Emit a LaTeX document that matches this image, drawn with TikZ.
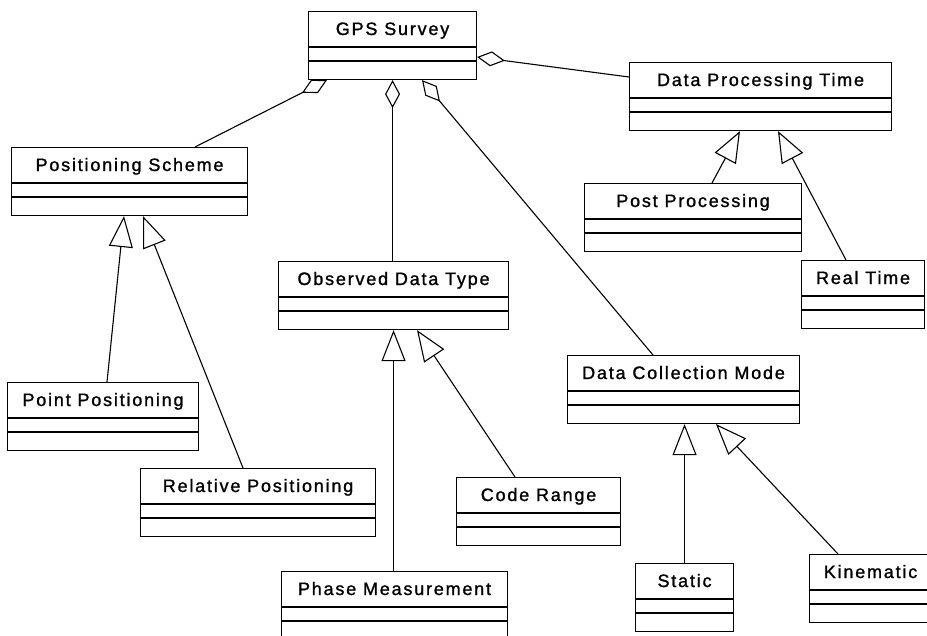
\documentclass[tikz,border=0pt]{standalone}
\usepackage{fontspec}
\setmainfont{Liberation Sans}[LetterSpace=10,FakeBold=1.2]
\usetikzlibrary{arrows.meta,calc}
\tikzset{
  cls/.style={draw, fill=white, line width=1.1pt, inner sep=0pt, minimum height=68pt, anchor=north west},
  ttl/.style={inner sep=0pt, anchor=base, font=\fontsize{18}{20}\selectfont},
  sep/.style={line width=1.1pt},
  conn/.style={line width=1.1pt},
  agg/.style={conn, {Diamond[open,length=28pt,width=15pt,line width=1.1pt]}-},
  gen/.style={conn, -{Triangle[open,length=31pt,width=24pt,line width=1.1pt]}}
}
\newcommand{\umlclass}[5]{%
  \node[cls, minimum width=#4pt] (#1) at (#2,#3) {};
  \node[ttl] (#1-t) at ([yshift=-24pt]#1.north) {#5};
  \draw[sep] ([yshift=-36pt]#1.north west) -- ([yshift=-36pt]#1.north east);
  \draw[sep] ([yshift=-50pt]#1.north west) -- ([yshift=-50pt]#1.north east);
}
\begin{document}
\begin{tikzpicture}[x=1pt,y=-1pt]
\clip (0,0) rectangle (927,635);
\fill[white] (0,0) rectangle (927,635);
\umlclass{gps}{308}{11}{168}{GPS Survey}
\umlclass{dpt}{629}{62}{262}{Data Processing Time}
\umlclass{post}{584}{183}{217}{Post Processing}
\umlclass{real}{801}{260}{123}{Real Time}
\umlclass{ps}{11}{147}{236}{Positioning Scheme}
\umlclass{point}{7}{382}{191}{Point Positioning}
\umlclass{rel}{140}{468}{235}{Relative Positioning}
\umlclass{odt}{278}{261}{230}{Observed Data Type}
\umlclass{code}{456}{477}{164}{Code Range}
\umlclass{phase}{281}{571}{226}{Phase Measurement}
\umlclass{dcm}{567}{355}{232}{Data Collection Mode}
\umlclass{static}{635}{563}{98}{Static}
\umlclass{kin}{809}{554}{122}{Kinematic}
% aggregations
\draw[agg] ([xshift=19pt]gps.south west) -- ([xshift=184pt]ps.north west);
\draw[agg] (gps.south) -- (gps.south |- odt.north);
\draw[agg] ([xshift=114pt]gps.south west) -- ([xshift=86pt]dcm.north west);
\draw[agg] ([yshift=-46pt]gps.north east) -- ([yshift=-15pt]dpt.north west);
% generalizations
\draw[gen] ([xshift=128pt]post.north west) -- ([xshift=111pt]dpt.south west);
\draw[gen] ([xshift=45pt]real.north west) -- ([xshift=149pt]dpt.south west);
\draw[gen] ([xshift=100pt]point.north west) -- ([xshift=113pt]ps.south west);
\draw[gen] ([xshift=103pt]rel.north west) -- ([xshift=132pt]ps.south west);
\draw[gen] (odt.south |- phase.north) -- (odt.south);
\draw[gen] ([xshift=59pt]code.north west) -- ([xshift=139pt]odt.south west);
\draw[gen] (static.north) -- (static.north |- dcm.south);
\draw[gen] ([xshift=29pt]kin.north west) -- ([xshift=149pt]dcm.south west);
\end{tikzpicture}
\end{document}
